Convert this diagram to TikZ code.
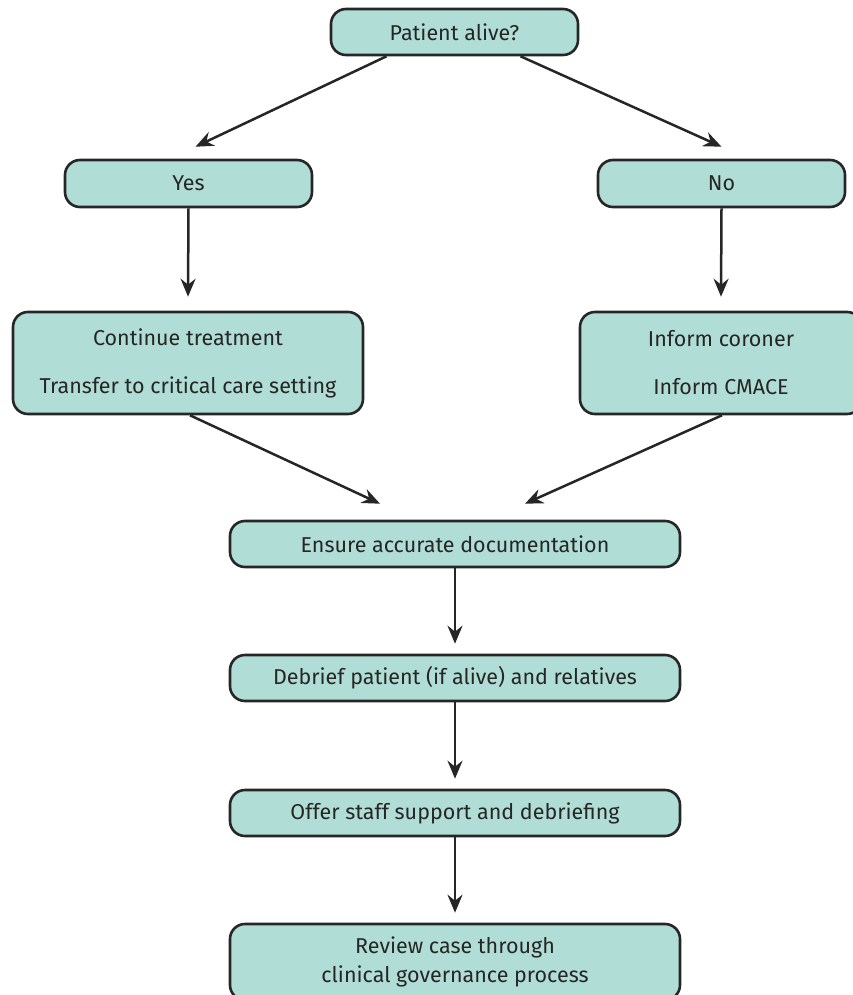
\documentclass[tikz,border=0pt]{standalone}
\usepackage{fontspec}
\setmainfont{Fira Sans}
\usetikzlibrary{arrows.meta,calc}
\definecolor{boxfill}{HTML}{B0DDD6}
\definecolor{boxline}{HTML}{262626}
\begin{document}
\begin{tikzpicture}[x=1pt,y=-1pt,
  box/.style={draw=boxline,line width=2.6pt,fill=boxfill,rounded corners=15pt,
    align=center,inner sep=0pt,font=\fontsize{21.5}{29}\selectfont,text=boxline},
  arr/.style={draw=boxline,line width=2.5pt,-{Stealth[length=18pt,width=15pt,inset=6pt]}}]
\useasboundingbox (0,0) rectangle (853,995);
\clip (0,0) rectangle (853,995);
\node[box,minimum width=247pt,minimum height=46pt] (p) at (454.5,32) {Patient alive?};
\node[box,minimum width=247pt,minimum height=47pt] (yes) at (188.5,183.5) {Yes};
\node[box,minimum width=247pt,minimum height=47pt] (no) at (721.5,183.5) {No};
\node[box,minimum width=350pt,minimum height=102pt,font=\fontsize{21.5}{48}\selectfont] (cont) at (188,363) {Continue treatment\\Transfer to critical care setting};
\node[box,minimum width=282pt,minimum height=102pt,font=\fontsize{21.5}{48}\selectfont] (inf) at (721,363) {Inform coroner\\Inform CMACE};
\node[box,minimum width=450pt,minimum height=46pt] (doc) at (455,544) {Ensure accurate documentation};
\node[box,minimum width=450pt,minimum height=46pt] (deb) at (455,678) {Debrief patient (if alive) and relatives};
\node[box,minimum width=450pt,minimum height=46pt] (staff) at (455,813) {Offer staff support and debriefing};
\node[box,minimum width=450pt,minimum height=76pt] (rev) at (455,962) {Review case through\\clinical governance process};
\draw[arr] ($(p.south)+(-68,0)$) -- ($(yes.north)+(7,-12)$);
\draw[arr] ($(p.south)+(66,0)$) -- ($(no.north)+(0,-12)$);
\draw[arr] (yes.south) -- ($(cont.north)+(0,-14)$);
\draw[arr] (no.south) -- ($(inf.north)+(0,-14)$);
\draw[arr] ($(cont.south)+(2,0)$) -- ($(doc.north)+(-75,-16)$);
\draw[arr] ($(inf.south)+(1,0)$) -- ($(doc.north)+(70,-16)$);
\draw[arr] (doc.south) -- ($(deb.north)+(0,-10)$);
\draw[arr] (deb.south) -- ($(staff.north)+(0,-10)$);
\draw[arr] (staff.south) -- ($(rev.north)+(0,-10)$);
\end{tikzpicture}
\end{document}
